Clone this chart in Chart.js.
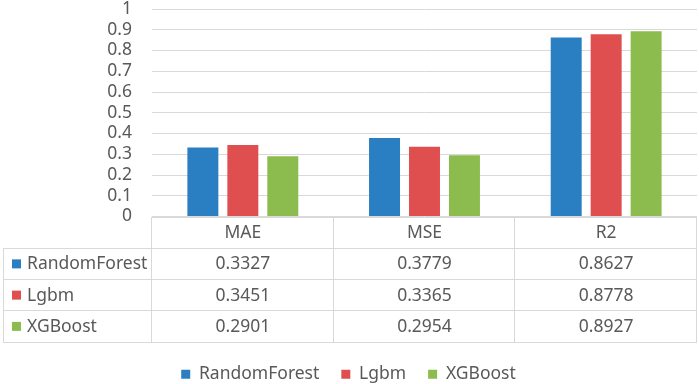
<!DOCTYPE html>
<html>
<head>
<meta charset="utf-8">
<script src="https://cdn.jsdelivr.net/npm/chart.js@4/dist/chart.umd.min.js"></script>
<style>
    html, body { margin: 0; padding: 0; background: #fff; }
    #wrap { width: 699px; height: 384px; }
</style>
</head>
<body>
<div id="wrap"><canvas id="metricsChart"></canvas></div>
<script>
// metrics per model
const categories = ['MAE', 'MSE', 'R2'];
const models = ['RandomForest', 'Lgbm', 'XGBoost'];
const randomForest = [0.3327, 0.3779, 0.8627];
const lgbm = [0.3451, 0.3365, 0.8778];
const xgboost = [0.2901, 0.2954, 0.8927];
const yTicks = [0, 0.1, 0.2, 0.3, 0.4, 0.5, 0.6, 0.7, 0.8, 0.9, 1];

const colors = ['#2a7fc2', '#e04f4f', '#8cbb4e'];
const textColor = '#595959';
const lineColor = '#d9d9d9';
const fontFamily = '"Noto Sans", "Open Sans", sans-serif';
const fontSize = 17.5;
const tableHeight = 125;
const axisHeight = 127;

// draws the Excel-like data table under the plot area
const dataTablePlugin = {
    id: 'dataTable',
    afterDraw(chart) {
        const ctx = chart.ctx;
        const area = chart.chartArea;
        const x = chart.scales.x;
        const top = area.bottom;
        const rowH = tableHeight / 4;
        const leftEdge = 3;
        const colW = (area.right - area.left) / categories.length;

        ctx.save();
        ctx.strokeStyle = lineColor;
        ctx.lineWidth = 1;
        ctx.beginPath();
        // horizontal lines
        ctx.moveTo(area.left, Math.round(top) + 0.5);
        ctx.lineTo(area.right, Math.round(top) + 0.5);
        for (let k = 1; k <= 4; k++) {
            const y = Math.round(top + rowH * k) + 0.5;
            ctx.moveTo(leftEdge, y);
            ctx.lineTo(area.right, y);
        }
        // vertical lines
        const bottom = Math.round(top + rowH * 4) + 0.5;
        ctx.moveTo(leftEdge + 0.5, Math.round(top + rowH) + 0.5);
        ctx.lineTo(leftEdge + 0.5, bottom);
        for (let i = 0; i <= categories.length; i++) {
            const xx = Math.round(area.left + colW * i) - 0.5;
            ctx.moveTo(xx, Math.round(top));
            ctx.lineTo(xx, bottom);
        }
        ctx.stroke();

        ctx.font = fontSize + 'px ' + fontFamily;
        ctx.fillStyle = textColor;
        ctx.textBaseline = 'middle';
        ctx.textAlign = 'center';
        categories.forEach((c, i) => {
            ctx.fillText(c, x.getPixelForValue(i), top + rowH / 2 + 1);
        });

        chart.data.datasets.forEach((ds, r) => {
            const cy = top + rowH * (r + 1.5) + 1;
            ctx.textAlign = 'center';
            ctx.fillStyle = textColor;
            ds.data.forEach((v, i) => {
                ctx.fillText(v.toFixed(4), x.getPixelForValue(i), cy);
            });
            ctx.fillStyle = ds.backgroundColor;
            ctx.fillRect(12, cy - 5, 9, 9);
            ctx.fillStyle = textColor;
            ctx.textAlign = 'left';
            ctx.fillText(ds.label, 27, cy);
        });
        ctx.restore();
    }
};

const seriesData = [randomForest, lgbm, xgboost];

new Chart(document.getElementById('metricsChart'), {
    type: 'bar',
    data: {
        labels: categories,
        datasets: models.map((m, i) => ({
            label: m,
            data: seriesData[i],
            backgroundColor: colors[i],
            categoryPercentage: 0.66,
            barPercentage: 0.775
        }))
    },
    options: {
        responsive: true,
        maintainAspectRatio: false,
        animation: false,
        devicePixelRatio: 1,
        layout: { padding: { top: 9, right: 2, left: 0, bottom: -9 } },
        plugins: {
            tooltip: { enabled: false },
            legend: {
                position: 'bottom',
                labels: {
                    boxWidth: 9,
                    boxHeight: 9,
                    padding: 22,
                    color: textColor,
                    font: { family: fontFamily, size: fontSize }
                }
            }
        },
        scales: {
            x: {
                grid: { display: false },
                border: { display: false },
                ticks: { display: false },
                afterFit(scale) { scale.height = axisHeight; }
            },
            y: {
                min: 0,
                max: 1,
                afterBuildTicks(scale) {
                    scale.ticks = yTicks.map(v => ({ value: v }));
                },
                afterFit(scale) {
                    scale.width = 152;
                    scale.paddingTop = 0;
                    scale.paddingBottom = 0;
                },
                grid: { color: lineColor, drawTicks: false },
                border: { display: false },
                ticks: {
                    padding: 20,
                    autoSkip: false,
                    color: textColor,
                    font: { family: fontFamily, size: fontSize },
                    callback: v => String(v)
                }
            }
        }
    },
    plugins: [dataTablePlugin]
});
</script>
</body>
</html>
